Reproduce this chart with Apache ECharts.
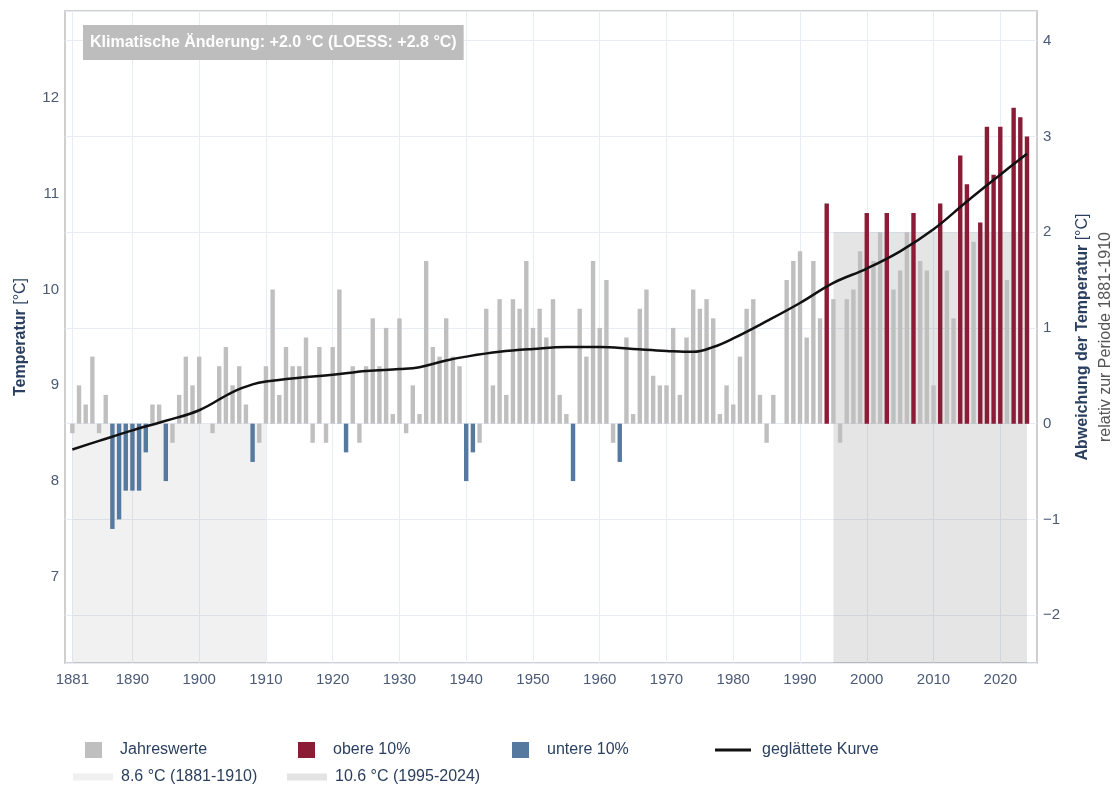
<!DOCTYPE html>
<html>
<head>
<meta charset="utf-8">
<title>Temperatur</title>
<script src="https://cdn.jsdelivr.net/npm/echarts@6/dist/echarts.min.js"></script>
<style>
    html, body {margin: 0; padding: 0; background: #fff; overflow: hidden;}
    #chart {width: 1115px; height: 785px;}
</style>
</head>
<body>
<div id="chart"></div>
<script>
//Jahresmittel der Temperatur [°C], ab 1881
const firstYear = 1881;
const temps = [
    8.5, 9.0, 8.8, 9.3, 8.5, 8.9, 7.5, 7.6, 7.9, 7.9,      //1881-1890
    7.9, 8.3, 8.8, 8.8, 8.0, 8.4, 8.9, 9.3, 9.0, 9.3,      //1891-1900
    8.6, 8.5, 9.2, 9.4, 9.0, 9.2, 8.8, 8.2, 8.4, 9.2,      //1901-1910
    10.0, 8.9, 9.4, 9.2, 9.2, 9.5, 8.4, 9.4, 8.4, 9.4,     //1911-1920
    10.0, 8.3, 9.2, 8.4, 9.2, 9.7, 9.2, 9.6, 8.7, 9.7,     //1921-1930
    8.5, 9.0, 8.7, 10.3, 9.4, 9.3, 9.7, 9.3, 9.2, 8.0,     //1931-1940
    8.3, 8.4, 9.8, 9.0, 9.9, 8.9, 9.9, 9.8, 10.3, 9.6,     //1941-1950
    9.8, 9.5, 9.9, 8.9, 8.7, 8.0, 9.8, 9.3, 10.3, 9.6,     //1951-1960
    10.1, 8.4, 8.2, 9.5, 8.7, 9.8, 10.0, 9.1, 9.0, 9.0,    //1961-1970
    9.6, 8.9, 9.5, 10.0, 9.8, 9.9, 9.7, 8.7, 9.0, 8.8,     //1971-1980
    9.3, 9.8, 9.9, 8.9, 8.4, 8.9, 8.6, 10.1, 10.3, 10.4,   //1981-1990
    9.5, 10.3, 9.7, 10.9, 9.9, 8.4, 9.9, 10.0, 10.4, 10.8, //1991-2000
    10.3, 10.6, 10.8, 10.0, 10.2, 10.6, 10.8, 10.3, 10.2, 9.0, //2001-2010
    10.9, 10.2, 9.7, 11.4, 11.1, 10.5, 10.7, 11.7, 11.2, 11.7, //2011-2020
    10.1, 11.9, 11.8, 11.6                                  //2021-2024
];
//obere 10% / untere 10%
const upperYears = [1994, 2000, 2003, 2007, 2011, 2014, 2015, 2017, 2018, 2019, 2020, 2022, 2023, 2024];
const lowerYears = [1887, 1888, 1889, 1890, 1891, 1892, 1895, 1908, 1922, 1940, 1941, 1956, 1963];
//geglättete Kurve (LOESS)
const loessYears = [1881, 1885, 1890, 1895, 1900, 1905, 1908, 1910, 1915, 1920, 1925, 1930, 1933, 1937, 1940,
    1945, 1950, 1955, 1960, 1965, 1970, 1974, 1977, 1980, 1985, 1990, 1995, 2000, 2005, 2010, 2015, 2020, 2024];
const loessValues = [8.33, 8.42, 8.53, 8.63, 8.74, 8.93, 9.01, 9.04, 9.08, 9.11, 9.15, 9.17, 9.19, 9.26, 9.30,
    9.35, 9.38, 9.40, 9.40, 9.38, 9.36, 9.35, 9.40, 9.49, 9.67, 9.86, 10.07, 10.22, 10.40, 10.63, 10.92, 11.20, 11.42];
//Referenzperioden
const baseMean = 8.6;
const basePeriod = [1881, 1910];
const recentMean = 10.6;
const recentPeriod = [1995, 2024];
//Achsen
const xTicks = [1881, 1890, 1900, 1910, 1920, 1930, 1940, 1950, 1960, 1970, 1980, 1990, 2000, 2010, 2020];
const anomalyRange = [-2.5, 4.31];
const yearRange = [1879.9, 2025.5];

const colors = {
    gray: '#bfbfbf',
    red: '#8b1c36',
    blue: '#56799f',
    text: '#2a3f5f',
    tick: '#4a5a76',
    grid: '#e8ecf4'
};

const chart = echarts.init(document.getElementById('chart'));

const grayData = [], redData = [], blueData = [];
temps.forEach((t, i) => {
    const year = firstYear + i;
    const item = [year, +(t - baseMean).toFixed(2)];
    if (upperYears.includes(year)) {
        redData.push(item);
    } else if (lowerYears.includes(year)) {
        blueData.push(item);
    } else {
        grayData.push(item);
    }
});

const tempMin = anomalyRange[0] + baseMean;
const tempMax = anomalyRange[1] + baseMean;

const barSeries = (name, data, color) => ({
    name,
    type: 'bar',
    yAxisIndex: 1,
    data,
    barWidth: 4.4,
    barGap: '-100%',
    itemStyle: {color},
    z: 3
});

//Legende: jeweils ein Eintrag
const legendItems = [
    {name: 'Jahreswerte', left: 85, top: 742, w: 17, h: 16, pad: 13},
    {name: 'obere 10%', left: 298, top: 742, w: 17, h: 16, pad: 13},
    {name: 'untere 10%', left: 512, top: 742, w: 17, h: 16, pad: 13},
    {name: 'geglättete Kurve', left: 715, top: 742, w: 36, h: 3, pad: 6},
    {name: baseMean.toFixed(1) + ' °C (' + basePeriod.join('-') + ')', left: 73, top: 769, w: 40, h: 7, pad: 3},
    {name: recentMean.toFixed(1) + ' °C (' + recentPeriod.join('-') + ')', left: 287, top: 769, w: 40, h: 7, pad: 3}
];

const option = {
    animation: false,
    textStyle: {fontFamily: 'Liberation Sans, Arial, sans-serif'},
    title: {
        text: 'Klimatische Änderung: +2.0 °C (LOESS: +2.8 °C)',
        left: 83,
        top: 25,
        backgroundColor: '#bdbdbd',
        padding: [10, 7, 9, 7],
        textStyle: {color: '#fff', fontSize: 16, fontWeight: 'bold'}
    },
    legend: legendItems.map(item => ({
        data: [{name: item.name, icon: 'rect'}],
        left: item.left,
        top: item.top,
        itemWidth: item.w,
        itemHeight: item.h,
        padding: 0,
        selectedMode: false,
        textStyle: {color: colors.text, fontSize: 16, padding: [0, 0, 0, item.pad]}
    })),
    grid: {
        left: 65,
        right: 78,
        top: 11,
        bottom: 122,
        show: true,
        borderColor: '#cfcfcf',
        borderWidth: 2,
        containLabel: false,
        outerBoundsMode: 'none'
    },
    xAxis: {
        type: 'value',
        min: yearRange[0],
        max: yearRange[1],
        axisLine: {show: false},
        axisTick: {show: false, customValues: xTicks},
        axisLabel: {customValues: xTicks, color: colors.tick, fontSize: 15, margin: 9, formatter: v => String(v)},
        splitLine: {show: true, lineStyle: {color: colors.grid, width: 1}}
    },
    yAxis: [
        {
            type: 'value',
            min: tempMin,
            max: tempMax,
            position: 'left',
            axisLine: {show: false},
            axisTick: {show: false},
            splitLine: {show: false},
            axisLabel: {color: colors.tick, fontSize: 15, margin: 6, showMinLabel: false, showMaxLabel: false},
            name: '{b|Temperatur} [°C]',
            nameLocation: 'middle',
            nameGap: 36,
            nameTextStyle: {
                color: colors.text,
                fontSize: 16,
                rich: {b: {fontWeight: 'bold', fontSize: 16, color: colors.text}}
            }
        },
        {
            type: 'value',
            min: anomalyRange[0],
            max: anomalyRange[1],
            position: 'right',
            axisLine: {show: false},
            axisTick: {show: false},
            splitLine: {show: true, lineStyle: {color: colors.grid, width: 1}},
            axisLabel: {
                color: colors.tick,
                fontSize: 15,
                margin: 6,
                showMinLabel: false,
                showMaxLabel: false,
                formatter: v => String(v).replace('-', '\u2212')
            },
            name: '{b|Abweichung der Temperatur}{n| [°C]}\n{g|relativ zur Periode 1881-1910}',
            nameLocation: 'middle',
            nameRotate: 90,
            nameGap: 33,
            nameTextStyle: {
                color: colors.text,
                fontSize: 16,
                lineHeight: 23,
                rich: {
                    b: {fontWeight: 'bold', fontSize: 16, color: colors.text, lineHeight: 23},
                    n: {fontSize: 16, color: colors.text, lineHeight: 23},
                    g: {fontSize: 16, color: '#555', lineHeight: 23}
                }
            }
        }
    ],
    series: [
        {
            name: legendItems[4].name,
            type: 'line',
            data: [],
            itemStyle: {color: '#f0f0f0'},
            z: 1,
            markArea: {
                silent: true,
                itemStyle: {color: 'rgba(0,0,0,0.055)'},
                data: [[{xAxis: basePeriod[0], yAxis: baseMean}, {xAxis: basePeriod[1], yAxis: tempMin}]]
            }
        },
        {
            name: legendItems[5].name,
            type: 'line',
            data: [],
            itemStyle: {color: '#e3e3e3'},
            z: 1,
            markArea: {
                silent: true,
                itemStyle: {color: 'rgba(0,0,0,0.1)'},
                data: [[{xAxis: recentPeriod[0], yAxis: recentMean}, {xAxis: recentPeriod[1], yAxis: tempMin}]]
            }
        },
        barSeries('Jahreswerte', grayData, colors.gray),
        barSeries('obere 10%', redData, colors.red),
        barSeries('untere 10%', blueData, colors.blue),
        {
            name: 'geglättete Kurve',
            type: 'line',
            yAxisIndex: 0,
            data: loessYears.map((y, i) => [y, loessValues[i]]),
            smooth: 0.4,
            symbol: 'none',
            itemStyle: {color: '#111'},
            lineStyle: {color: '#111', width: 2.5},
            z: 5
        }
    ]
};

chart.setOption(option);
</script>
</body>
</html>
